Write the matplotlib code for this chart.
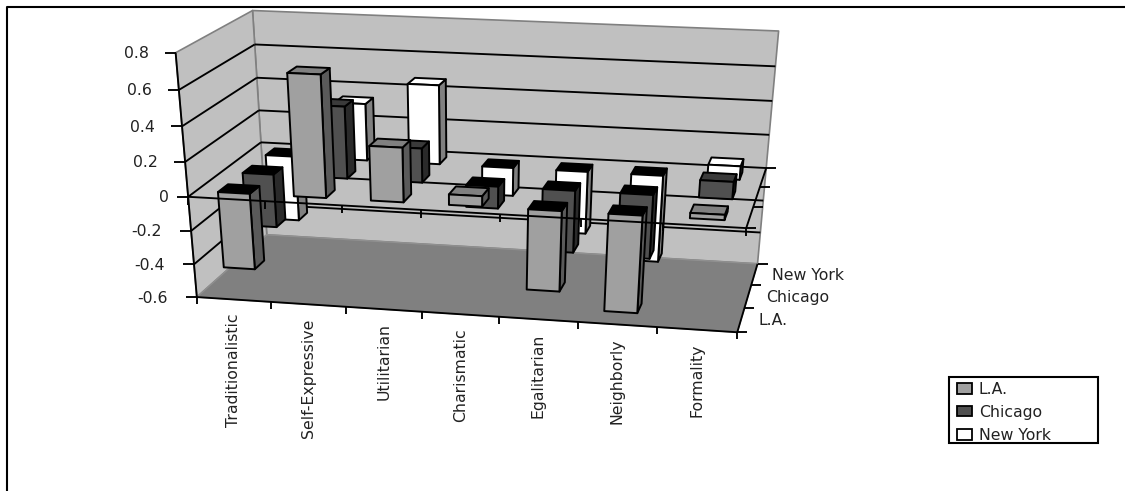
import numpy as np
import matplotlib
matplotlib.use('Agg')
import matplotlib.pyplot as plt
from matplotlib.patches import Polygon, Rectangle

categories = ['Traditionalistic', 'Self-Expressive', 'Utilitarian', 'Charismatic',
              'Egalitarian', 'Neighborly', 'Formality']
series = ['L.A.', 'Chicago', 'New York']
la = [-0.45, 0.69, 0.31, 0.06, -0.47, -0.57, 0.03]
chicago = [-0.32, 0.42, 0.20, -0.13, -0.37, -0.38, 0.10]
new_york = [-0.40, 0.34, 0.47, -0.17, -0.38, -0.53, 0.08]
values = [la, chicago, new_york]
zticks = [0.8, 0.6, 0.4, 0.2, 0, -0.2, -0.4, -0.6]
zlabels = ['0.8', '0.6', '0.4', '0.2', '0', '-0.2', '-0.4', '-0.6']

ZMIN, ZMAX = -0.6, 0.8
NX, NY = len(categories), len(series)
BAR_W = 0.42
BAR_D = 0.40

# camera calibration: (category, series, value) -> pixel, fitted with DLT
calib = [
    ((0, 0, -.6), (196.7, 296.7)), ((7, 0, -.6), (736.7, 332.3)),
    ((7, 3, -.6), (758.3, 262.7)), ((0, 3, -.6), (266.7, 235.0)),
    ((0, 0, .8), (175.7, 52.3)), ((0, 3, .8), (252.7, 10.7)),
    ((7, 3, .8), (779.3, 30.7)), ((0, 0, 0), (188.3, 196.7)),
    ((7, 0, 0), (746.7, 229.0)), ((7, 3, 0), (766.7, 169.0)),
    ((0, 3, 0), (260.7, 143.0)), ((0, 3, .6), (254.7, 44.3)),
    ((0, 3, .4), (256.7, 77.0)), ((0, 3, .2), (259.0, 111.0)),
    ((7, 3, .6), (775.0, 66.7)), ((7, 3, .4), (771.7, 100.3)),
    ((7, 3, .2), (768.3, 134.7)),
]
rows = []
for (X, Y, Z), (u, v) in calib:
    u, v = u / 500, v / 500
    rows.append([X, Y, Z, 1, 0, 0, 0, 0, -u*X, -u*Y, -u*Z, -u])
    rows.append([0, 0, 0, 0, X, Y, Z, 1, -v*X, -v*Y, -v*Z, -v])
P = np.linalg.svd(np.array(rows))[2][-1].reshape(3, 4)


def proj(x, y, z):
    h = P @ np.array([x, y, z, 1.0])
    return h[0] / h[2] * 500, h[1] / h[2] * 500


fig = plt.figure(figsize=(11.25, 4.91), dpi=100)
ax = fig.add_axes([0, 0, 1, 1])
ax.set_xlim(0, 1125)
ax.set_ylim(491, 0)
ax.axis('off')

txt = '#222222'
fs = 11.3


def poly(pts, fc, ec='black', lw=1.4, z=2):
    ax.add_patch(Polygon([proj(*p) for p in pts], closed=True, fc=fc, ec=ec, lw=lw,
                         joinstyle='round', zorder=z))


def seg(a, b, z=1.5, c='black', lw=1.35):
    pa, pb = proj(*a), proj(*b)
    ax.plot([pa[0], pb[0]], [pa[1], pb[1]], color=c, lw=lw, zorder=z,
            solid_capstyle='butt')


def tick(a, dx, dy, z=1.5):
    pa = proj(*a)
    ax.plot([pa[0], pa[0] + dx], [pa[1], pa[1] + dy], color='black', lw=1.35, zorder=z,
            solid_capstyle='butt')


# outer chart frame
ax.plot([7, 7, 1125], [491, 7, 7], color='black', lw=1.5, solid_capstyle='butt')

# walls and floor
poly([(0, 3, ZMIN), (NX, 3, ZMIN), (NX, 3, ZMAX), (0, 3, ZMAX)], '#C0C0C0', '#808080', 1.2, 1)
poly([(0, 0, ZMIN), (0, 3, ZMIN), (0, 3, ZMAX), (0, 0, ZMAX)], '#C0C0C0', '#808080', 1.2, 1)
poly([(0, 0, ZMIN), (NX, 0, ZMIN), (NX, 3, ZMIN), (0, 3, ZMIN)], '#808080', '#909090', 1.0, 1.1)

# gridlines
for zt in zticks[1:-1]:
    seg((0, 3, zt), (NX, 3, zt))
    seg((0, 0, zt), (0, 3, zt))

# value axis on the left wall
seg((0, 0, ZMIN), (0, 0, ZMAX), z=1.6)
for zt, lab in zip(zticks, zlabels):
    tick((0, 0, zt), -11, 0)
    px, py = proj(0, 0, zt)
    off = 8 if lab == '0' else (18 if zt < 0 else 16)
    ax.text(px - 11 - off, py + 1, lab, ha='right', va='center', fontsize=fs, color=txt)

# floor axes, category ticks and labels
seg((0, 0, ZMIN), (NX, 0, ZMIN), z=1.6)
seg((NX, 0, ZMIN), (NX, 3, ZMIN), z=1.6)
for i in range(NX + 1):
    tick((i, 0, ZMIN), 0, 7)
for i, name in enumerate(categories):
    px, py = proj(i + 0.5, 0, ZMIN)
    ax.text(px, py + 14, name, rotation=90, ha='center', va='top', fontsize=fs, color=txt)
for j in range(NY + 1):
    tick((NX, j, ZMIN), 10, 0)
for j, name in enumerate(series):
    px, py = proj(NX, j + 0.5, ZMIN)
    ax.text(px + 18, py + 1, name, ha='left', va='center', fontsize=fs, color=txt)

# bars, back row first
front_c = ['#A0A0A0', '#505050', '#FFFFFF']
side_c = ['#5A5A5A', '#2A2A2A', '#808080']
top_c = ['#808080', '#3A3A3A', '#FFFFFF']
for j in reversed(range(NY)):
    for i in range(NX):
        v = values[j][i]
        x0, x1 = i + 0.5 - BAR_W / 2, i + 0.5 + BAR_W / 2
        y0, y1 = j + 0.5 - BAR_D / 2, j + 0.5 + BAR_D / 2
        lo, hi = min(v, 0), max(v, 0)
        zo = 2 + (NY - j) * 0.1
        poly([(x1, y0, lo), (x1, y1, lo), (x1, y1, hi), (x1, y0, hi)], side_c[j], z=zo)
        poly([(x0, y0, hi), (x1, y0, hi), (x1, y1, hi), (x0, y1, hi)],
             top_c[j] if v > 0 else 'black', z=zo)
        poly([(x0, y0, lo), (x1, y0, lo), (x1, y0, hi), (x0, y0, hi)], front_c[j], z=zo)

# zero plane edges drawn over the bars
seg((0, 0, 0), (NX, 0, 0), z=4)
seg((NX, 0, 0), (NX, 3, 0), z=4)
for i in range(NX + 1):
    tick((i, 0, 0), 0, 8, z=4)
for j in range(NY + 1):
    tick((NX, j, 0), 10, 0, z=4)

# legend
ax.add_patch(Rectangle((949, 377), 148.5, 65.5, fc='white', ec='black', lw=1.5, zorder=5))
ys = [388, 410.5, 434]
for yy, name, col in zip(ys, series, front_c):
    ax.add_patch(Rectangle((957, yy - 5), 14.5, 10.5, fc=col, ec='black', lw=1.3, zorder=6))
    ax.text(979, yy + 1.5, name, ha='left', va='center', fontsize=fs, color=txt, zorder=6)

fig.savefig('out.png', dpi=100)
